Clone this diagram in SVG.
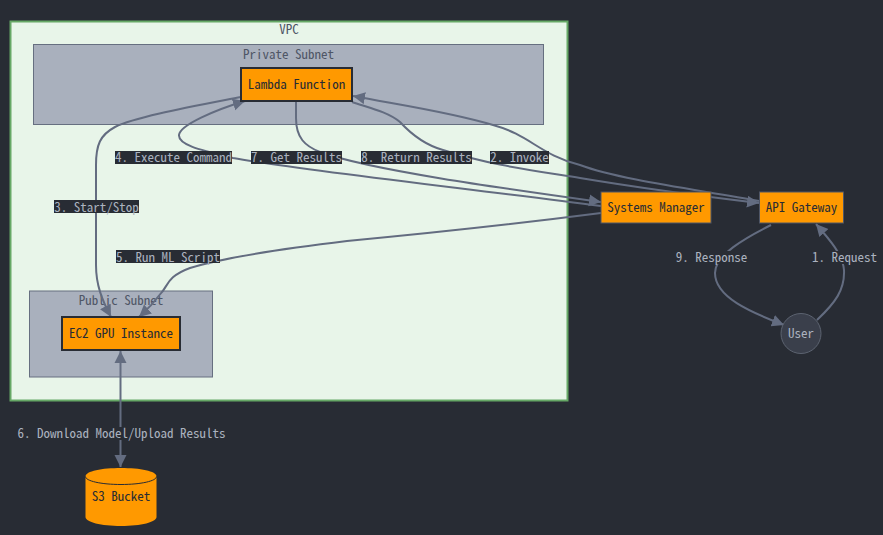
<svg xmlns="http://www.w3.org/2000/svg" width="883" height="535" viewBox="0 0 883 535">
<style>
text{font-family:"Noto Sans Mono CJK KR","Noto Sans Mono CJK SC","Liberation Mono",monospace;font-size:13px;text-anchor:middle}
.e{fill:none;stroke:#636c80;stroke-width:2}
.l{fill:#282c34}
.lt{fill:#abb2bf}
.sub{fill:#a9b0bd;stroke:#666f80;stroke-width:1}
.st{fill:#4f5666}
.n{fill:#ff9900;stroke:#4f5666;stroke-width:1}
.nb{fill:#ff9900;stroke:#282c34;stroke-width:2}
.nt{fill:#282c34}
</style>
<defs>
<marker id="a" markerUnits="userSpaceOnUse" markerWidth="14" markerHeight="14" refX="12" refY="6" orient="auto"><path d="M0 0L12 6L0 12Z" fill="#636c80"/></marker>
<marker id="s" markerUnits="userSpaceOnUse" markerWidth="14" markerHeight="14" refX="0" refY="6" orient="auto"><path d="M12 0L0 6L12 12Z" fill="#636c80"/></marker>
</defs>
<rect width="883" height="535" fill="#282c34"/>
<g id="vpc"><rect x="10.5" y="21.5" width="557" height="379" fill="#e8f5e9" stroke="#66a866" stroke-width="2"/><text x="289" y="34" class="st">VPC</text></g>
<g id="private-subnet"><rect class="sub" x="33.5" y="44.5" width="510" height="80"/><text x="288.500" y="59" class="st">Private Subnet</text></g>
<g id="public-subnet"><rect class="sub" x="29.500" y="291" width="183" height="86"/><text x="121" y="305" class="st">Public Subnet</text></g>
<g id="connectors">
<path class="e" marker-end="url(#a)" d="M759 201C700 190 620 180 580 165C540 155 530 135 493 125C450 112 400 105 353 96"/>
<path class="e" marker-end="url(#a)" d="M352 102C370 108 388 112 400 122C412 135 425 145 443 150C490 165 530 170 580 178C640 188 700 196 759 203"/>
<path class="e" marker-end="url(#a)" d="M296 101V118C296 138 305 146 320 152C370 170 500 188 601 202"/>
<path class="e" marker-end="url(#a)" d="M601 206C480 190 300 170 233 158C200 150 178 145 179 135C180 125 215 110 245 101"/>
<path class="e" marker-end="url(#a)" d="M241 97C190 107 135 117 115 127C100 135 96 145 96 165V265C96 285 102 300 111 317"/>
<path class="e" marker-end="url(#a)" d="M601 213C500 226 400 236 347 241C280 249 225 257 190 268C168 276 168 285 162 292C156 300 148 309 139 317"/>
<path class="e" marker-start="url(#s)" marker-end="url(#a)" d="M120.500 351V467"/>
<path class="e" marker-end="url(#a)" d="M817 320C835 303 845 290 844 270C843 255 830 240 816 224"/>
<path class="e" marker-end="url(#a)" d="M771 225C745 238 715 255 715 273C715 297 750 312 784 325"/>
</g>
<g id="labels">
<rect class="l" x="115" y="151" width="117" height="13"/><text class="lt" x="173.500" y="162">4. Execute Command</text>
<rect class="l" x="251" y="151" width="91" height="13"/><text class="lt" x="296.500" y="162">7. Get Results</text>
<rect class="l" x="361" y="151" width="111" height="13"/><text class="lt" x="416.500" y="162">8. Return Results</text>
<rect class="l" x="490" y="151" width="59" height="13"/><text class="lt" x="519.500" y="162">2. Invoke</text>
<rect class="l" x="54" y="200" width="85" height="13"/><text class="lt" x="96.500" y="212">3. Start/Stop</text>
<rect class="l" x="116" y="250" width="104" height="13"/><text class="lt" x="168" y="262">5. Run ML Script</text>
<rect class="l" x="17" y="427" width="209" height="13"/><text class="lt" x="121.500" y="438">6. Download Model/Upload Results</text>
<rect class="l" x="676" y="251" width="71" height="13"/><text class="lt" x="711.500" y="262">9. Response</text>
<rect class="l" x="812" y="251" width="65" height="13"/><text class="lt" x="844.500" y="262">1. Request</text>
</g>
<g id="lambda"><rect class="nb" x="241" y="68" width="111" height="33"/><text class="nt" x="296.500" y="89">Lambda Function</text></g>
<g id="systems-manager"><rect class="n" x="601" y="192" width="110" height="31"/><text class="nt" x="656" y="212">Systems Manager</text></g>
<g id="api-gateway"><rect class="n" x="759.500" y="192" width="84" height="31"/><text class="nt" x="801.500" y="212">API Gateway</text></g>
<g id="ec2"><rect class="nb" x="62" y="317" width="118" height="33"/><text class="nt" x="121" y="338">EC2 GPU Instance</text></g>
<g id="user"><circle cx="801" cy="333.500" r="20" fill="#3a3f4b" stroke="#5c6370"/><text class="lt" x="801" y="338">User</text></g>
<g id="s3"><path d="M85.500 476.500V517C85.500 522 101 526 121 526S156.500 522 156.500 517V476.500C156.500 471 140 468 121 468S85.500 471 85.500 476.500Z" fill="#ff9900"/><path d="M85.500 476.500C85.500 481 101 484.500 121 484.500S156.500 481 156.500 476.500" fill="none" stroke="#282c34" stroke-width="1"/><text class="nt" x="121" y="501">S3 Bucket</text></g>
</svg>
